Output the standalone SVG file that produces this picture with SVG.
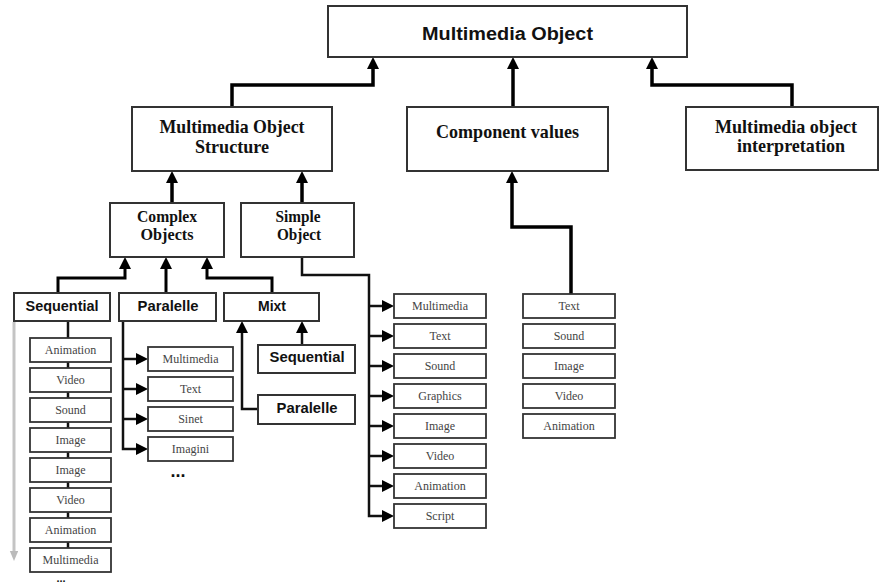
<svg xmlns="http://www.w3.org/2000/svg" width="879" height="586" viewBox="0 0 879 586">
<defs>
<marker id="ah" viewBox="0 0 12 12" refX="0" refY="6" markerWidth="12" markerHeight="12" markerUnits="userSpaceOnUse" orient="auto"><path d="M0,0 L12,6 L0,12 z" fill="#000"/></marker>
<marker id="ahg" viewBox="0 0 10 12" refX="0" refY="5" markerWidth="12" markerHeight="10" markerUnits="userSpaceOnUse" orient="auto"><path d="M0,0 L12,5 L0,10 z" fill="#bbb"/></marker>
<style>
.box{fill:#fff;stroke:#333;stroke-width:2}
.sbox{fill:#fff;stroke:#333;stroke-width:1.8}
.c1{fill:none;stroke:#000;stroke-width:3.5}
.c2{fill:none;stroke:#000;stroke-width:3}
.c3{fill:none;stroke:#111;stroke-width:2.5}
.ts{font-family:"Liberation Serif","Times New Roman",serif;font-weight:bold;fill:#111;text-anchor:middle}
.ta{font-family:"Liberation Sans",Arial,sans-serif;font-weight:bold;fill:#111;text-anchor:middle}
.tm{font-family:"Liberation Serif","Times New Roman",serif;font-size:12px;fill:#444;text-anchor:middle}
</style>
</defs>
<rect width="879" height="586" fill="#fff"/>
<g id="connectors">
<path class="c1" d="M232,107 V85 H373 V69" marker-end="url(#ah)"/>
<path class="c1" d="M513,107 V69" marker-end="url(#ah)"/>
<path class="c1" d="M792,107 V85 H652 V69" marker-end="url(#ah)"/>
<path class="c1" d="M172,203 V183" marker-end="url(#ah)"/>
<path class="c1" d="M302,203 V183" marker-end="url(#ah)"/>
<path class="c1" d="M571,294 V227 H512 V183" marker-end="url(#ah)"/>
<path class="c2" d="M58,293 V278 H125 V269" marker-end="url(#ah)"/>
<path class="c2" d="M166,293 V269" marker-end="url(#ah)"/>
<path class="c2" d="M272,293 V278 H207 V269" marker-end="url(#ah)"/>
<path class="c3" d="M302,257 V275 H369 V516 H382" marker-end="url(#ah)"/>
<path class="c3" d="M369,306 H382" marker-end="url(#ah)"/>
<path class="c3" d="M369,336 H382" marker-end="url(#ah)"/>
<path class="c3" d="M369,366 H382" marker-end="url(#ah)"/>
<path class="c3" d="M369,396 H382" marker-end="url(#ah)"/>
<path class="c3" d="M369,426 H382" marker-end="url(#ah)"/>
<path class="c3" d="M369,456 H382" marker-end="url(#ah)"/>
<path class="c3" d="M369,486 H382" marker-end="url(#ah)"/>
<path class="c3" d="M123,321 V449 H136" marker-end="url(#ah)"/>
<path class="c3" d="M123,359 H136" marker-end="url(#ah)"/>
<path class="c3" d="M123,389 H136" marker-end="url(#ah)"/>
<path class="c3" d="M123,419 H136" marker-end="url(#ah)"/>
<path class="c3" d="M302,345 V333" marker-end="url(#ah)"/>
<path class="c3" d="M258,409 H242 V333" marker-end="url(#ah)"/>
<path class="c3" d="M68,321 V548"/>
<path d="M14,322 V551" fill="none" stroke="#c4c4c4" stroke-width="3" marker-end="url(#ahg)"/>
</g>
<g id="n-mo"><rect class="box" x="328" y="6" width="359" height="51"/><text class="ta" x="507.5" y="40" font-size="18" textLength="171" lengthAdjust="spacingAndGlyphs">Multimedia Object</text></g>
<g id="n-mos"><rect class="box" x="132" y="107" width="200" height="64"/><text class="ts" x="232" y="133" font-size="19" textLength="145" lengthAdjust="spacingAndGlyphs">Multimedia Object</text><text class="ts" x="232" y="153" font-size="19" textLength="74" lengthAdjust="spacingAndGlyphs">Structure</text></g>
<g id="n-cv"><rect class="box" x="407" y="107" width="201" height="64"/><text class="ts" x="507.5" y="138" font-size="19" textLength="143" lengthAdjust="spacingAndGlyphs">Component values</text></g>
<g id="n-moi"><rect class="box" x="686" y="107" width="192" height="63"/><text class="ts" x="786" y="133" font-size="19" textLength="142" lengthAdjust="spacingAndGlyphs">Multimedia object</text><text class="ts" x="791" y="152" font-size="19" textLength="108" lengthAdjust="spacingAndGlyphs">interpretation</text></g>
<g id="n-complex"><rect class="box" x="110" y="203" width="114" height="54"/><text class="ts" x="167" y="222" font-size="16" textLength="60" lengthAdjust="spacingAndGlyphs">Complex</text><text class="ts" x="167" y="240" font-size="16" textLength="53" lengthAdjust="spacingAndGlyphs">Objects</text></g>
<g id="n-simple"><rect class="box" x="241" y="203" width="113" height="54"/><text class="ts" x="298" y="222" font-size="16" textLength="45" lengthAdjust="spacingAndGlyphs">Simple</text><text class="ts" x="299" y="240" font-size="16" textLength="44" lengthAdjust="spacingAndGlyphs">Object</text></g>
<g id="n-seq"><rect class="box" x="14" y="293" width="96" height="28"/><text class="ta" x="62" y="311" font-size="14" textLength="73" lengthAdjust="spacingAndGlyphs">Sequential</text></g>
<g id="n-par"><rect class="box" x="119" y="293" width="97" height="28"/><text class="ta" x="168" y="311" font-size="14" textLength="61" lengthAdjust="spacingAndGlyphs">Paralelle</text></g>
<g id="n-mixt"><rect class="box" x="224" y="293" width="95" height="28"/><text class="ta" x="272" y="311" font-size="14">Mixt</text></g>
<g id="n-mseq"><rect class="box" x="258" y="345" width="97" height="28"/><text class="ta" x="307" y="362" font-size="14" textLength="75" lengthAdjust="spacingAndGlyphs">Sequential</text></g>
<g id="n-mpar"><rect class="box" x="258" y="395" width="97" height="29"/><text class="ta" x="307" y="413" font-size="14" textLength="61" lengthAdjust="spacingAndGlyphs">Paralelle</text></g>
<g id="chain">
<g id="c1"><rect class="sbox" x="30" y="338" width="81" height="24"/><text class="tm" x="70.5" y="354">Animation</text></g>
<g id="c2"><rect class="sbox" x="30" y="368" width="81" height="24"/><text class="tm" x="70.5" y="384">Video</text></g>
<g id="c3"><rect class="sbox" x="30" y="398" width="81" height="24"/><text class="tm" x="70.5" y="414">Sound</text></g>
<g id="c4"><rect class="sbox" x="30" y="428" width="81" height="24"/><text class="tm" x="70.5" y="444">Image</text></g>
<g id="c5"><rect class="sbox" x="30" y="458" width="81" height="24"/><text class="tm" x="70.5" y="474">Image</text></g>
<g id="c6"><rect class="sbox" x="30" y="488" width="81" height="24"/><text class="tm" x="70.5" y="504">Video</text></g>
<g id="c7"><rect class="sbox" x="30" y="518" width="81" height="24"/><text class="tm" x="70.5" y="534">Animation</text></g>
<g id="c8"><rect class="sbox" x="30" y="548" width="81" height="24"/><text class="tm" x="70.5" y="564">Multimedia</text></g>
<text class="ta" x="61" y="582" font-size="11" fill="#333">...</text>
</g>
<g id="parlist">
<g id="p1"><rect class="sbox" x="148" y="347" width="85" height="24"/><text class="tm" x="190.5" y="363">Multimedia</text></g>
<g id="p2"><rect class="sbox" x="148" y="377" width="85" height="24"/><text class="tm" x="190.5" y="393">Text</text></g>
<g id="p3"><rect class="sbox" x="148" y="407" width="85" height="24"/><text class="tm" x="190.5" y="423">Sinet</text></g>
<g id="p4"><rect class="sbox" x="148" y="437" width="85" height="24"/><text class="tm" x="190.5" y="453">Imagini</text></g>
<text class="ta" x="178" y="477" font-size="18">...</text>
</g>
<g id="simplelist">
<g id="s1"><rect class="sbox" x="394" y="294" width="92" height="24"/><text class="tm" x="440" y="310">Multimedia</text></g>
<g id="s2"><rect class="sbox" x="394" y="324" width="92" height="24"/><text class="tm" x="440" y="340">Text</text></g>
<g id="s3"><rect class="sbox" x="394" y="354" width="92" height="24"/><text class="tm" x="440" y="370">Sound</text></g>
<g id="s4"><rect class="sbox" x="394" y="384" width="92" height="24"/><text class="tm" x="440" y="400">Graphics</text></g>
<g id="s5"><rect class="sbox" x="394" y="414" width="92" height="24"/><text class="tm" x="440" y="430">Image</text></g>
<g id="s6"><rect class="sbox" x="394" y="444" width="92" height="24"/><text class="tm" x="440" y="460">Video</text></g>
<g id="s7"><rect class="sbox" x="394" y="474" width="92" height="24"/><text class="tm" x="440" y="490">Animation</text></g>
<g id="s8"><rect class="sbox" x="394" y="504" width="92" height="24"/><text class="tm" x="440" y="520">Script</text></g>
</g>
<g id="complist">
<g id="v1"><rect class="sbox" x="523" y="294" width="92" height="24"/><text class="tm" x="569" y="310">Text</text></g>
<g id="v2"><rect class="sbox" x="523" y="324" width="92" height="24"/><text class="tm" x="569" y="340">Sound</text></g>
<g id="v3"><rect class="sbox" x="523" y="354" width="92" height="24"/><text class="tm" x="569" y="370">Image</text></g>
<g id="v4"><rect class="sbox" x="523" y="384" width="92" height="24"/><text class="tm" x="569" y="400">Video</text></g>
<g id="v5"><rect class="sbox" x="523" y="414" width="92" height="24"/><text class="tm" x="569" y="430">Animation</text></g>
</g>
</svg>
